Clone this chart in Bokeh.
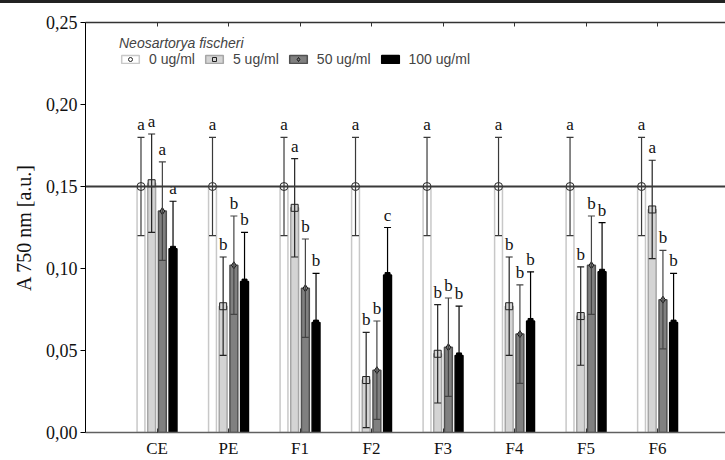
from bokeh.plotting import figure
from bokeh.models import (Range1d, FixedTicker, LinearAxis, Span, Whisker, TeeHead,
                          ColumnDataSource, Legend, LegendItem, Div)
from bokeh.layouts import column
from bokeh.core.properties import value
from bokeh.embed import file_html
from bokeh.resources import INLINE

# ---------------- data ----------------
categories = ["CE", "PE", "F1", "F2", "F3", "F4", "F5", "F6"]
series_names = ["0 ug/ml", "5 ug/ml", "50 ug/ml", "100 ug/ml"]
legend_title = "Neosartorya fischeri"
y_axis_label = "A 750 nm [a.u.]"

mean_0 = [0.150, 0.150, 0.150, 0.150, 0.150, 0.150, 0.150, 0.150]
mean_5 = [0.152, 0.077, 0.137, 0.032, 0.048, 0.077, 0.071, 0.136]
mean_50 = [0.135, 0.102, 0.088, 0.038, 0.052, 0.060, 0.102, 0.081]
mean_100 = [0.112, 0.092, 0.067, 0.096, 0.047, 0.068, 0.098, 0.067]

err_0 = [0.030, 0.030, 0.030, 0.030, 0.030, 0.030, 0.030, 0.030]
err_5 = [0.030, 0.030, 0.030, 0.029, 0.030, 0.030, 0.030, 0.030]
err_50 = [0.030, 0.030, 0.030, 0.030, 0.030, 0.030, 0.030, 0.030]
err_100 = [0.029, 0.030, 0.030, 0.029, 0.030, 0.030, 0.030, 0.030]

letters_0 = ["a", "a", "a", "a", "a", "a", "a", "a"]
letters_5 = ["a", "b", "a", "b", "b", "b", "b", "a"]
letters_50 = ["a", "b", "b", "b", "b", "b", "b", "b"]
letters_100 = ["a", "b", "b", "c", "b", "b", "b", "b"]

y_ticks = [0.0, 0.05, 0.1, 0.15, 0.2, 0.25]
y_tick_labels = ["0,00", "0,05", "0,10", "0,15", "0,20", "0,25"]
reference_level = 0.15

# ---------------- styling ----------------
SERIF = "Liberation Serif"
SANS = "Liberation Sans"
offsets = [-0.224, -0.075, 0.075, 0.224]
bar_w = 0.11
fills = ["#ffffff", "#d4d4d4", "#808080", "#000000"]
outlines = ["#c8c8c8", "#a6a6a6", "#505050", "#000000"]
err_cols = ["#3a3a3a", "#222222", "#444444", "#000000"]
markers = ["circle", "square", "diamond", "square"]
m_sizes = [8, 7, 7, 5]
m_lines = ["#222222", "#222222", "#111111", "#000000"]

means = [mean_0, mean_5, mean_50, mean_100]
errs = [err_0, err_5, err_50, err_100]
letters = [letters_0, letters_5, letters_50, letters_100]

p = figure(width=725, height=457, output_backend="svg", toolbar_location=None,
           x_range=Range1d(-1.0, 7.95), y_range=Range1d(0, 0.25),
           min_border_left=85, min_border_right=0, min_border_top=19,
           min_border_bottom=25, outline_line_color=None,
           background_fill_color="white", border_fill_color="white")
p.xgrid.visible = False
p.ygrid.visible = False

# axes
xa = p.xaxis[0]
xa.ticker = FixedTicker(ticks=list(range(len(categories))))
xa.major_label_overrides = {i: c for i, c in enumerate(categories)}
xa.major_tick_in = 4
xa.major_tick_out = 0
xa.minor_tick_line_color = None
xa.axis_line_color = "#606060"
xa.axis_line_width = 1.5
xa.major_tick_line_color = "#333333"
xa.major_label_text_font = SERIF
xa.major_label_text_font_size = "17px"
xa.major_label_text_color = "#111111"
xa.major_label_standoff = 6

ya = p.yaxis[0]
ya.ticker = FixedTicker(ticks=y_ticks)
ya.major_label_overrides = {t: l for t, l in zip(y_ticks, y_tick_labels)}
ya.major_tick_out = 5
ya.major_tick_in = 0
ya.minor_tick_line_color = None
ya.axis_line_color = "#000000"
ya.major_tick_line_color = "#000000"
ya.major_label_text_font = SERIF
ya.major_label_text_font_size = "18px"
ya.major_label_text_color = "#111111"
ya.major_label_standoff = 3
ya.axis_label = y_axis_label
ya.axis_label_text_font = SERIF
ya.axis_label_text_font_size = "20px"
ya.axis_label_text_font_style = "normal"
ya.axis_label_text_color = "#111111"
ya.axis_label_standoff = 8

top = LinearAxis(ticker=FixedTicker(ticks=list(range(len(categories)))),
                 major_tick_in=4, major_tick_out=0, minor_tick_line_color=None,
                 axis_line_color="#333333", axis_line_width=1.3,
                 major_tick_line_color="#333333",
                 major_label_text_color=None, major_label_text_font_size="1px",
                 major_label_standoff=0)
p.add_layout(top, "above")

bar_renderers = []
mark_renderers = []
for k in range(4):
    xs = [i + offsets[k] for i in range(len(categories))]
    src = ColumnDataSource(dict(
        x=xs, top=means[k],
        upper=[m + e for m, e in zip(means[k], errs[k])],
        lower=[m - e for m, e in zip(means[k], errs[k])],
        lab=letters[k]))
    rb = p.vbar(x="x", top="top", bottom=0, width=bar_w, source=src,
                fill_color=fills[k], line_color=outlines[k], line_width=1.5)
    bar_renderers.append(rb)
    w = Whisker(source=src, base="x", upper="upper", lower="lower",
                line_color=err_cols[k], line_width=1.2,
                upper_head=TeeHead(size=7, line_color=err_cols[k], line_width=1.2),
                lower_head=TeeHead(size=7, line_color=err_cols[k], line_width=1.2),
                level="glyph")
    p.add_layout(w)
    rm = p.scatter(x="x", y="top", source=src, marker=markers[k], size=m_sizes[k],
                   fill_color=fills[k], line_color=m_lines[k], line_width=1)
    mark_renderers.append(rm)
    p.text(x="x", y="upper", text="lab", source=src, text_align="center",
           text_baseline="bottom", y_offset=-3, text_font=value(SERIF),
           text_font_size="17px", text_color="#111111")

p.add_layout(Span(location=reference_level, dimension="width",
                  line_color="#3a3a3a", line_width=2))

legend = Legend(items=[LegendItem(label=series_names[k],
                                  renderers=[bar_renderers[k], mark_renderers[k]])
                       for k in range(4)],
                orientation="horizontal", title=legend_title,
                title_text_font=SANS, title_text_font_style="italic",
                title_text_font_size="14px", title_standoff=-3,
                label_text_font=SANS, label_text_font_size="14px",
                glyph_width=22, glyph_height=10, label_standoff=8, spacing=8,
                padding=0, margin=0, border_line_color=None,
                background_fill_alpha=0, location=(34, 365))
p.add_layout(legend)

band = Div(width=725, height=3, margin=0,
           styles={"background-color": "#222222"})
layout = column(band, p, spacing=0)

open("out.html", "w").write(file_html(layout, INLINE))
